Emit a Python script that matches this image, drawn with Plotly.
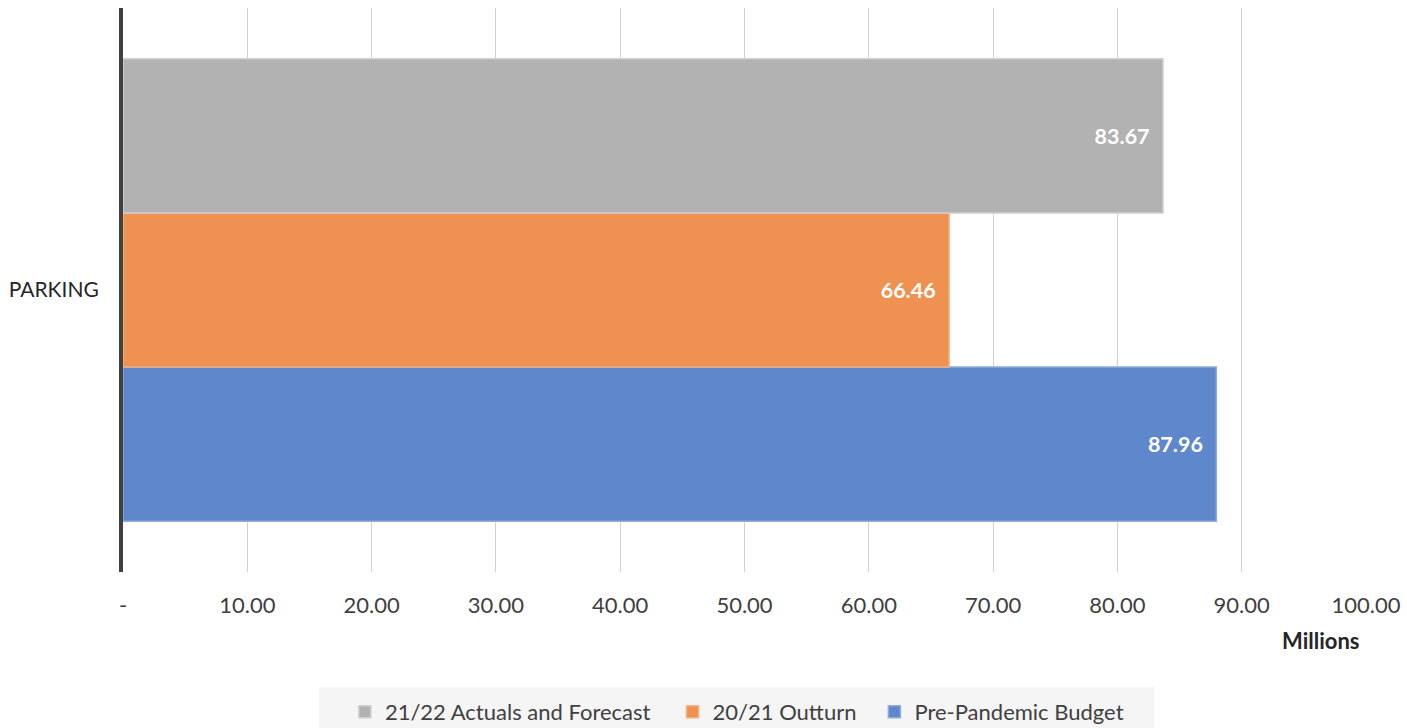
import plotly.graph_objects as go

categories = ["PARKING"]
series_names = ["Pre-Pandemic Budget", "20/21 Outturn", "21/22 Actuals and Forecast"]
series_values = [[87.96], [66.46], [83.67]]
series_colors = ["#5f87cc", "#ef9150", "#b2b2b2"]
edge_colors = ["#8faadc", "#f4b183", "#d0d0d0"]
legend_ids = ["legend3", "legend2", "legend"]
tick_vals = [0, 10, 20, 30, 40, 50, 60, 70, 80, 90, 100]
tick_text = ["-", "10.00", "20.00", "30.00", "40.00", "50.00", "60.00", "70.00", "80.00", "90.00", "100.00"]

FONT = "Lato, 'Open Sans', sans-serif"
PAD = "\u00a0" * 2

fig = go.Figure()
for name, vals, col, ec, lg in zip(series_names, series_values, series_colors, edge_colors, legend_ids):
    fig.add_trace(go.Bar(
        y=categories, x=vals, name=name, orientation="h", legend=lg,
        showlegend=True,
        marker=dict(color=col, line=dict(color=ec, width=1.5)),
        text=[f"{v:.2f}{PAD}" for v in vals],
        textposition="inside", insidetextanchor="end",
        textfont=dict(color="white", size=21.5, family=FONT, weight="bold"),
        cliponaxis=False,
    ))

legend_common = dict(
    orientation="h", y=-0.2482, yanchor="middle", xanchor="left",
    bgcolor="rgba(0,0,0,0)", font=dict(size=22, color="#404040", family=FONT),
    itemwidth=30,
)

fig.update_layout(
    width=1407, height=728,
    showlegend=True,
    barmode="group", bargap=0.18, bargroupgap=0,
    plot_bgcolor="white", paper_bgcolor="white",
    margin=dict(l=123, r=41, t=8, b=156, autoexpand=False),
    font=dict(family=FONT, size=21, color="#404040"),
    legend=dict(x=0.1785, **legend_common),
    legend2=dict(x=0.4421, **legend_common),
    legend3=dict(x=0.6045, **legend_common),
    xaxis=dict(
        range=[0, 100], tickvals=tick_vals, ticktext=tick_text,
        showgrid=True, gridcolor="#d0d0d0", gridwidth=1,
        zeroline=False, showline=False, ticks="",
        ticklabelstandoff=18, automargin=False,
        tickfont=dict(size=22, color="#404040"),
    ),
    yaxis=dict(
        showline=True, linecolor="#404040", linewidth=4,
        ticks="", showgrid=False, automargin=False,
        ticklabelstandoff=16,
        tickfont=dict(size=21, color="#262626"),
    ),
    shapes=[dict(
        type="rect", xref="paper", yref="paper",
        x0=0.1576, x1=0.8296, y0=-0.2039, y1=-0.30,
        fillcolor="#f5f5f5", line=dict(width=0), layer="below",
    )],
    annotations=[dict(
        text="<b>Millions</b>", xref="paper", yref="paper",
        x=0.963, y=-0.122, xanchor="center", yanchor="middle",
        showarrow=False, font=dict(size=22, color="#262626", family=FONT),
    )],
)

fig.write_html("out.html", config={"displayModeBar": False},
               post_script="document.body.style.margin='0';")
